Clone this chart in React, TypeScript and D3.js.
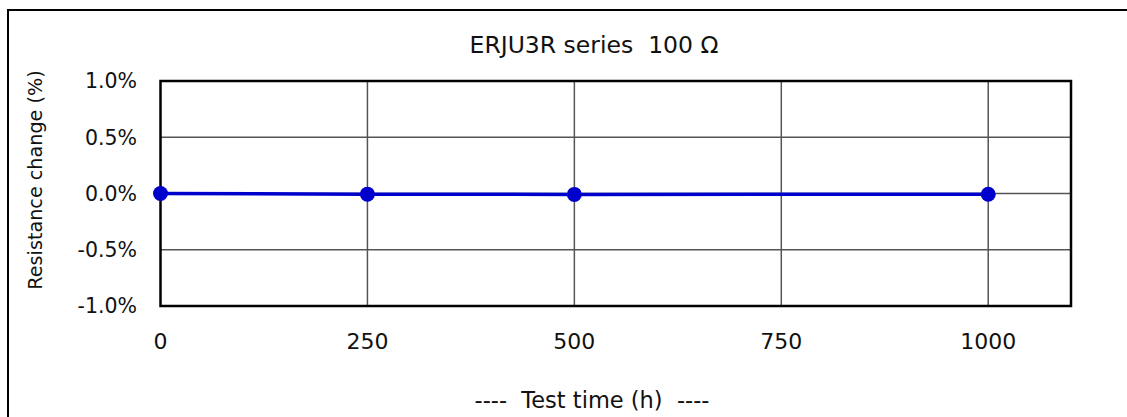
import React from "react";
import * as d3 from "d3";

const hours = [0, 250, 500, 1000];
const changePct = [0.0, -0.006, -0.008, -0.007];
const xTicks = [0, 250, 500, 750, 1000];
const yTicks = [1.0, 0.5, 0.0, -0.5, -1.0];
const title = "ERJU3R series\u00a0\u00a0100 Ω";
const xTitle = "----\u00a0\u00a0Test time (h)\u00a0\u00a0----";
const yTitle = "Resistance change (%)";

export default function App() {
  const W = 1127;
  const H = 417;
  const font = "'DejaVu Sans', Verdana, sans-serif";
  const x = d3.scaleLinear().domain([0, 1100]).range([160.5, 1071]);
  const y = d3.scaleLinear().domain([-1, 1]).range([306, 81]);
  const line = d3
    .line<number>()
    .x((_, i) => x(hours[i]))
    .y((d) => y(d));

  return (
    <svg
      width={W}
      height={H}
      style={{ position: "absolute", left: 0, top: 0, background: "#fff" }}
    >
      <rect x={8} y={10} width={1170} height={460} fill="#fff" stroke="#000" strokeWidth={2} />
      {/* grid */}
      {xTicks
        .filter((t) => t !== 0)
        .map((t) => (
          <line key={"gx" + t} x1={x(t)} x2={x(t)} y1={y(1)} y2={y(-1)} stroke="#555" strokeWidth={1.5} />
        ))}
      {yTicks
        .filter((t) => Math.abs(t) !== 1)
        .map((t) => (
          <line key={"gy" + t} x1={x(0)} x2={x(1100)} y1={y(t)} y2={y(t)} stroke="#555" strokeWidth={1.5} />
        ))}
      <rect
        x={x(0)}
        y={y(1)}
        width={x(1100) - x(0)}
        height={y(-1) - y(1)}
        fill="none"
        stroke="#000"
        strokeWidth={2.5}
      />
      {/* y tick labels */}
      {yTicks.map((t) => (
        <text
          key={"yt" + t}
          x={137}
          y={y(t)}
          dy="0.36em"
          textAnchor="end"
          fontFamily={font}
          fontSize={20.5}
          fill="#111"
        >
          {t.toFixed(1) + "%"}
        </text>
      ))}
      {/* x tick labels */}
      {xTicks.map((t) => (
        <text
          key={"xt" + t}
          x={x(t)}
          y={349}
          textAnchor="middle"
          fontFamily={font}
          fontSize={22}
          fill="#111"
        >
          {t}
        </text>
      ))}
      {/* series */}
      <path d={line(changePct) || ""} fill="none" stroke="#0000CC" strokeWidth={3.5} />
      {changePct.map((v, i) => (
        <circle key={"p" + i} cx={x(hours[i])} cy={y(v)} r={7.5} fill="#0000CC" />
      ))}
      {/* titles */}
      <text x={594} y={53} textAnchor="middle" fontFamily={font} fontSize={23.5} fill="#111">
        {title}
      </text>
      <text x={592} y={408} textAnchor="middle" fontFamily={font} fontSize={22.5} fill="#111">
        {xTitle}
      </text>
      <text
        transform="translate(42,180) rotate(-90)"
        textAnchor="middle"
        fontFamily={font}
        fontSize={19.2}
        fill="#111"
      >
        {yTitle}
      </text>
    </svg>
  );
}
